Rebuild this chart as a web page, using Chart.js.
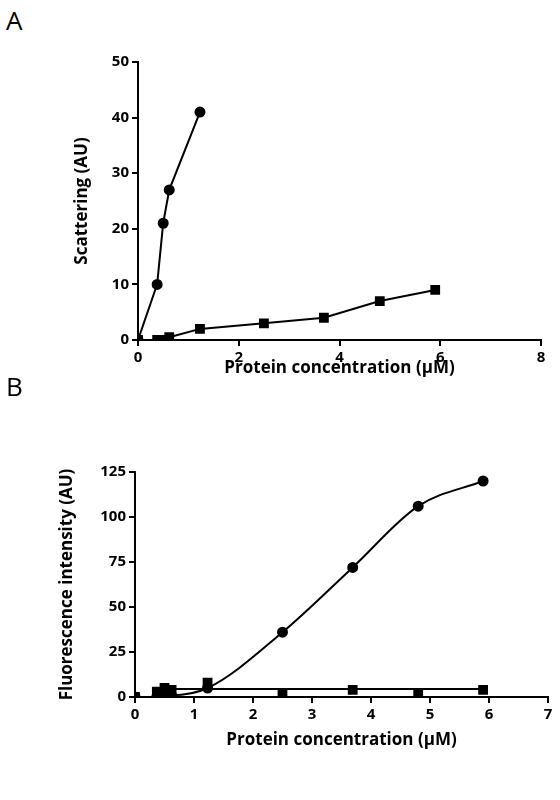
<!DOCTYPE html>
<html>
<head>
<meta charset="utf-8">
<script src="https://cdn.jsdelivr.net/npm/chart.js@4"></script>
<style>
  body { margin: 0; background: #fff; width: 560px; height: 800px; position: relative; font-family: "Open Sans", sans-serif; }
  .panel { position: absolute; left: 0; width: 560px; }
  .tag { position: absolute; left: 6px; font-size: 26px; color: #000; }
</style>
</head>
<body>
<div class="tag" style="top:2px">A</div>
<div class="panel" style="top:0;height:380px"><canvas id="chartA"></canvas></div>
<div class="tag" style="top:368px">B</div>
<div class="panel" style="top:385px;height:415px"><canvas id="chartB"></canvas></div>
<script>
// Panel A data
const aCircleX = [0, 0.38, 0.5, 0.62, 1.23];
const aCircleY = [0, 10, 21, 27, 41];
const aSquareX = [0, 0.38, 0.5, 0.62, 1.23, 2.5, 3.69, 4.8, 5.9];
const aSquareY = [0, 0, 0, 0.5, 2, 3, 4, 7, 9];

// Panel B data
const bCircleX = [0, 0.37, 0.5, 0.62, 1.23, 2.5, 3.69, 4.8, 5.9];
const bCircleY = [0, 0, 2, 1, 5, 36, 72, 106, 120];
const bSquareX = [0, 0.37, 0.5, 0.62, 1.23, 2.5, 3.69, 4.8, 5.9];
const bSquareY = [0, 3, 5, 4, 8, 2, 4, 2, 4];
const bFlatX = [0.37, 5.9];
const bFlatY = [4.5, 4.5];

const zip = (xs, ys) => xs.map((x, i) => ({ x: x, y: ys[i] }));
const tickFont = { family: 'Open Sans', size: 15, weight: 'bold' };
const titleFont = { family: 'Open Sans', size: 17, weight: 'bold' };

function axis(min, max, step, title, width, height) {
    return {
        type: 'linear', min: min, max: max,
        ticks: { stepSize: step, color: '#000', font: tickFont, padding: 3 },
        grid: { drawOnChartArea: false, drawTicks: true, tickLength: 6, color: '#000', lineWidth: 2 },
        border: { display: true, color: '#000', width: 2 },
        title: { display: true, text: title, color: '#000', font: titleFont, padding: 2 },
        afterFit: s => { if (width) s.width = width; if (height) s.height = height; }
    };
}

function series(data, style, opts) {
    return Object.assign({
        data: data, borderColor: '#000', backgroundColor: '#000', borderWidth: 2,
        pointStyle: style, pointRadius: style === 'rect' ? 5.5 : 4.5, showLine: true, tension: 0
    }, opts || {});
}

new Chart(document.getElementById('chartA'), {
    type: 'scatter',
    data: {
        datasets: [
            series(zip(aCircleX, aCircleY), 'circle'),
            series(zip(aSquareX, aSquareY), 'rect')
        ]
    },
    options: {
        responsive: true, maintainAspectRatio: false, animation: false,
        layout: { padding: { top: 62, right: 19, left: 70, bottom: 0 } },
        plugins: { legend: { display: false }, tooltip: { enabled: false } },
        scales: {
            x: axis(0, 8, 2, 'Protein concentration (μM)', null, 40),
            y: axis(0, 50, 10, 'Scattering (AU)', 68, null)
        }
    }
});

new Chart(document.getElementById('chartB'), {
    type: 'scatter',
    data: {
        datasets: [
            series(zip(bCircleX, bCircleY), 'circle', { cubicInterpolationMode: 'monotone', tension: 0.4 }),
            series(zip(bSquareX, bSquareY), 'rect', { showLine: false }),
            series(zip(bFlatX, bFlatY), 'circle', { pointRadius: 0 })
        ]
    },
    options: {
        responsive: true, maintainAspectRatio: false, animation: false,
        layout: { padding: { top: 87, right: 12, left: 55, bottom: 48 } },
        plugins: { legend: { display: false }, tooltip: { enabled: false } },
        scales: {
            x: axis(0, 7, 1, 'Protein concentration (μM)', null, 55),
            y: axis(0, 125, 25, 'Fluorescence intensity (AU)', 80, null)
        }
    }
});
</script>
</body>
</html>
